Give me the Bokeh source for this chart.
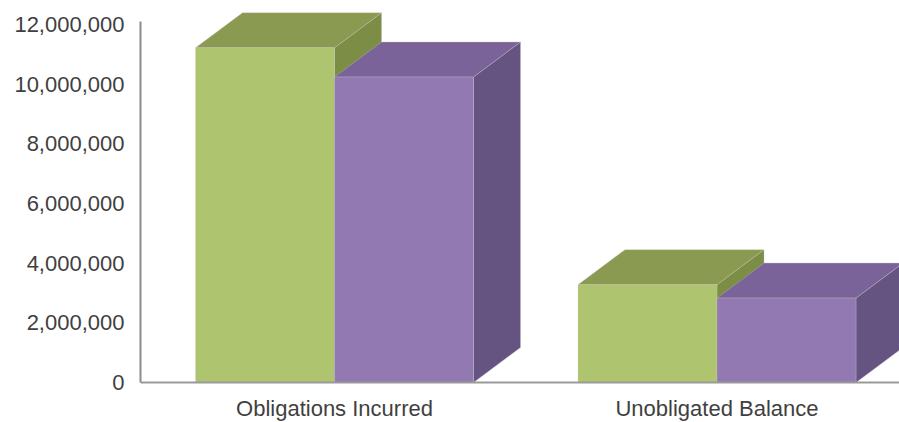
from bokeh.plotting import figure
from bokeh.models import Range1d, FixedTicker, NumeralTickFormatter
from bokeh.embed import file_html
from bokeh.resources import INLINE

# ---- data ----
categories = ["Obligations Incurred", "Unobligated Balance"]
green_values = [11_220_000, 3_280_000]
purple_values = [10_240_000, 2_830_000]
y_ticks = [0, 2_000_000, 4_000_000, 6_000_000, 8_000_000, 10_000_000, 12_000_000]

# ---- layout constants ----
W, H = 899, 422
LEFT = 140
frame_w = W - LEFT
base_px = 382                      # baseline distance from figure top
px_per_y = 358 / 12_000_000        # pixels per data unit (y)
px_per_cat = 382.5                 # pixels per category
y_start = -(H - base_px) / px_per_y
y_end = base_px / px_per_y
x_start = 0.5 - 194 / px_per_cat
x_end = x_start + frame_w / px_per_cat

FONT = "Liberation Sans"
TXT = "#3f3f3f"

p = figure(width=W, height=H, output_backend="svg", toolbar_location=None,
           x_range=Range1d(x_start, x_end), y_range=Range1d(y_start, y_end),
           min_border_left=LEFT, min_border_right=0, min_border_top=0,
           min_border_bottom=0)
p.outline_line_color = None
p.xgrid.visible = False
p.ygrid.visible = False
p.background_fill_color = "white"
p.border_fill_color = "white"

# ---- 3D bars ----
half = 139 / px_per_cat            # front width of one bar (category units)
dx = 47 / px_per_cat               # depth offset x
dy = 35 / px_per_y                 # depth offset y

series = [
    (green_values, -1, "#AEC46E", "#8A9B51", "#7C8E45"),
    (purple_values, 0, "#9279B2", "#7A6399", "#655381"),
]

for values, shift, c_front, c_top, c_side in series:
    lefts, rights, tops = [], [], []
    top_xs, top_ys, side_xs, side_ys = [], [], [], []
    for i, v in enumerate(values):
        c = i + 0.5
        x0 = c + shift * half
        x1 = x0 + half
        lefts.append(x0); rights.append(x1); tops.append(v)
        top_xs.append([x0, x1, x1 + dx, x0 + dx])
        top_ys.append([v, v, v + dy, v + dy])
        side_xs.append([x1, x1 + dx, x1 + dx, x1])
        side_ys.append([0, dy, v + dy, v])
    p.patches(side_xs, side_ys, fill_color=c_side, line_color="#bdbdbd",
              line_width=0.8, line_alpha=0.45)
    p.patches(top_xs, top_ys, fill_color=c_top, line_color="#c4c4c4",
              line_width=0.8, line_alpha=0.45)
    p.quad(left=lefts, right=rights, bottom=[0] * len(values), top=tops,
           fill_color=c_front, line_color="#cfcfcf", line_width=0.8,
           line_alpha=0.35)

# ---- axes ----
yax = p.yaxis[0]
yax.ticker = FixedTicker(ticks=y_ticks)
yax.formatter = NumeralTickFormatter(format="0,0")
yax.bounds = (0, 12_100_000)
yax.axis_line_color = "#8c8c8c"
yax.axis_line_width = 2
yax.major_tick_line_color = None
yax.minor_tick_line_color = None
yax.major_tick_out = 0
yax.major_tick_in = 0
yax.major_label_standoff = 16
yax.major_label_text_font = FONT
yax.major_label_text_font_size = "22px"
yax.major_label_text_color = TXT

xax = p.xaxis[0]
xax.fixed_location = 0
xax.ticker = FixedTicker(ticks=[i + 0.5 for i in range(len(categories))])
xax.major_label_overrides = {i + 0.5: name for i, name in enumerate(categories)}
xax.axis_line_color = "#999999"
xax.axis_line_width = 2
xax.major_tick_line_color = None
xax.minor_tick_line_color = None
xax.major_tick_out = 0
xax.major_tick_in = 0
xax.major_label_standoff = 13
xax.major_label_text_font = FONT
xax.major_label_text_font_size = "22px"
xax.major_label_text_color = TXT

open("out.html", "w").write(file_html(p, INLINE))
